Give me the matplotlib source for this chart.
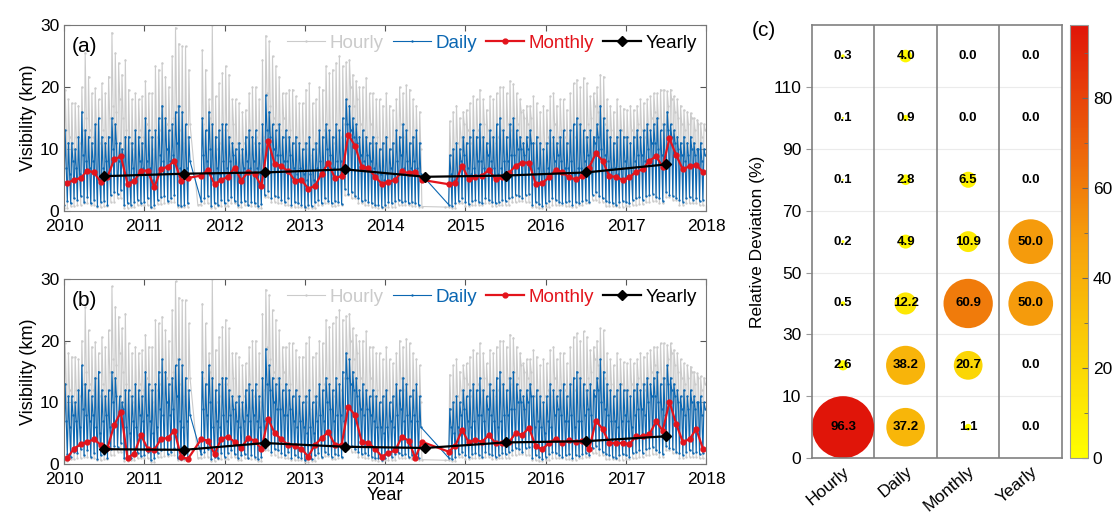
import numpy as np
import matplotlib
matplotlib.use("Agg")
import matplotlib.pyplot as plt
from matplotlib.colors import LinearSegmentedColormap

plt.rcParams['font.family'] = ['Liberation Sans', 'DejaVu Sans']

nan = np.nan

# ---- hourly series, per half month (24 per year, 2010..2017): spike tops and dense-band tops
hourly_peak = [
    19.6, 18, 17.4, 17.4, 17, 20, 25.5, 21.7, 19, 19.8, 18, 20.6, 19, 21.7, 28.8, 25.5, 23.9, 22, 24.4, 19.6, 18, 19, 18, 18.5,
    21, 19, 19, 23.4, 22.8, 23.9, 21.7, 20, 25, 29.6, 27, 26.6, 26.6, 22.8, nan, nan, nan, 26, 22.8, 18, 30, 18.5, 20.6, 22.3,
    23.4, 22, 18, 18, 17.4, 16, 16.3, 19, 20, 20, 18, 24.4, 28.3, 27.4, 25, 23.4, 21.7, 19, 19, 19.6, 19.6, 18.5, 17.4, 17.4,
    19.6, 20.6, 17.4, 18, 20, 19.6, 23.4, 22.3, 22.8, 23.9, 25, 23.4, 24, 24.4, 22, 21, 20, 20, 21.5, 19, 19, 18, 18, 17,
    19, 17, 16.3, 18, 20, 19, 20.3, 19.6, 18, 17, 16, nan, nan, nan, nan, nan, nan, nan, nan, 14.5, 16, 17, 15, 16,
    16.3, 17.4, 18.5, 18, 19.6, 18, 16.3, 18.5, 18, 19, 20, 20, 19, 21, 20.5, 19, 18, 16.3, 17, 17, 18.5, 17.4, 16, 17,
    16.3, 18.5, 19, 17, 18, 18, 16.3, 19, 20.6, 21.2, 20, 21.5, 20.6, 18.5, 19, 20, 22, 21.7, 18, 17, 16, 18, 17, 16.5,
    16.3, 17, 16.3, 17, 18, 17.4, 18, 18.5, 19, 19, 19.6, 19.6, 19.3, 19.6, 18.5, 18, 17, 16.3, 16, 15.8, 15, 14.7, 14.2, 14,
]
hourly_body = [
    13, 12, 10, 12, 11, 13, 15, 13, 12, 14, 11, 13, 12, 15, 17, 16, 18, 15, 13, 11, 10, 12, 13, 12,
    14, 12, 10, 12, 13, 15, 14, 13, 15, 17, 13, 11, 12, 14, nan, nan, nan, 14, 13, 15, 12, 10, 11, 13,
    13, 12, 14, 11, 9, 11, 12, 13, 11, 12, 10, 12, 19, 17, 15, 14, 13, 15, 12, 13, 11, 12, 10, 11,
    10, 9, 11, 10, 12, 13, 14, 12, 11, 13, 12, 14, 18, 20, 17, 18, 14, 13, 12, 14, 11, 12, 10, 11,
    12, 10, 11, 12, 14, 12, 13, 11, 12, 11, 10, nan, nan, nan, nan, nan, nan, nan, nan, 9, 10, 11, 12, 14,
    13, 11, 12, 13, 12, 14, 13, 12, 11, 12, 13, 12, 14, 13, 15, 14, 16, 15, 14, 15, 11, 12, 10, 11,
    12, 11, 14, 12, 13, 12, 11, 13, 12, 14, 13, 12, 14, 15, 17, 16, 15, 14, 12, 13, 11, 12, 13, 12,
    12, 13, 12, 14, 13, 12, 14, 15, 16, 15, 14, 13, 17, 18, 16, 15, 14, 13, 14, 15, 13, 14, 12, 13,
]
# monthly low edge of the hourly band
hourly_low = [
    0.5, 0.8, 1.0, 1.2, 1.0, 0.6, 0.8, 1.5, 2.0, 0.5, 0.7, 0.9,
    0.9, 0.4, 1.1, 1.3, 1.5, 0.6, 0.7, nan, 1.0, 1.2, 0.5, 0.8,
    0.8, 1.2, 0.6, 0.9, 0.8, 0.5, 2.2, 1.5, 1.2, 0.9, 0.6, 0.7,
    0.4, 0.5, 0.9, 1.3, 0.8, 1.0, 2.5, 2.0, 1.2, 1.0, 0.7, 0.5,
    0.6, 0.7, 1.0, 0.9, 0.8, 0.7, nan, nan, nan, 0.6, 0.5, 1.2,
    0.8, 0.9, 1.0, 1.2, 0.8, 0.9, 1.0, 1.4, 1.6, 1.5, 0.6, 0.5,
    0.7, 1.0, 1.0, 0.8, 0.7, 0.9, 1.2, 1.8, 1.5, 0.8, 0.8, 0.7,
    0.8, 1.0, 1.1, 1.4, 1.6, 1.2, 2.2, 1.8, 1.0, 1.2, 1.2, 0.9,
]

# ---- daily series, per half month: spike tops, band tops, lows
daily_peak = [
    13, 11, 11, 10, 12, 16, 13, 12, 11, 14, 15, 12, 11, 12, 15, 14, 8, 10, 12, 12, 11, 13, 12, 11,
    15, 13, 12, 13, 15, 17, 15, 13, 14, 16, 17, 16, 14, 12, nan, nan, nan, 15, 13, 16, 14, 12, 13, 14,
    14, 12, 11, 10, 11, 10, 12, 13, 12, 13, 11, 14, 18.7, 16, 14, 13, 14, 12, 13, 12, 11, 12, 11, 10,
    11, 12, 10, 11, 13, 12, 14, 13, 12, 14, 13, 15, 18, 17, 15, 14, 12, 13, 12, 11, 12, 11, 10, 11,
    12, 10, 11, 13, 12, 14, 13, 11, 12, 13, 11, nan, nan, nan, nan, nan, nan, nan, nan, 9, 10, 11, 10, 12,
    11, 12, 13, 12, 14, 12, 11, 13, 12, 14, 15, 13, 12, 14, 15, 13, 12, 11, 12, 13, 11, 12, 11, 10,
    11, 13, 12, 11, 12, 13, 11, 13, 14, 15, 14, 13, 12, 13, 12, 14, 17, 15, 13, 12, 11, 12, 13, 12,
    12, 11, 12, 13, 12, 13, 14, 13, 14, 15, 13, 14, 16, 14, 13, 12, 11, 12, 11, 12, 11, 10, 11, 10,
]
daily_body = [
    7, 6, 8, 7, 6, 9, 8, 7, 8, 6, 5, 7, 8, 6, 10, 11, 11, 9, 6, 5, 7, 6, 8, 7,
    8, 7, 5, 6, 9, 8, 10, 8, 9, 11, 7, 6, 7, 8, nan, nan, nan, 9, 8, 10, 6, 7, 6, 8,
    7, 8, 9, 7, 6, 7, 8, 7, 8, 7, 6, 7, 13, 12, 10, 9, 9, 8, 8, 9, 7, 6, 7, 6,
    5, 6, 5, 7, 8, 7, 10, 9, 7, 8, 8, 7, 14, 13, 12, 11, 9, 8, 9, 8, 7, 6, 6, 5,
    6, 7, 6, 8, 9, 7, 8, 7, 8, 7, 6, nan, nan, nan, nan, nan, nan, nan, nan, 6, 5, 6, 8, 9,
    7, 6, 7, 8, 8, 7, 9, 8, 7, 6, 7, 8, 8, 9, 9, 10, 10, 9, 10, 11, 6, 7, 6, 5,
    7, 6, 8, 9, 8, 7, 7, 8, 6, 7, 7, 8, 9, 8, 11, 12, 10, 9, 8, 7, 7, 6, 7, 8,
    7, 6, 8, 9, 9, 8, 10, 11, 11, 10, 9, 8, 13, 12, 11, 10, 9, 8, 9, 10, 9, 10, 8, 9,
]
daily_low = [
    1.0, 1.6, 1.2, 2.0, 1.8, 2.4, 1.5, 2.2, 1.2, 1.8, 0.8, 1.4, 1.6, 1.0, 2.5, 3.0, 2.8, 3.4, 0.9, 1.2, 1.0, 1.5, 1.8, 1.3,
    1.4, 2.0, 0.6, 1.0, 1.8, 2.2, 2.4, 1.6, 2.0, 2.6, 1.0, 0.8, 0.9, 1.2, nan, nan, nan, 1.6, 2.0, 2.4, 0.8, 1.2, 1.0, 1.8,
    1.2, 1.8, 2.2, 1.6, 1.0, 1.4, 1.6, 1.0, 1.5, 1.2, 0.8, 1.1, 2.6, 3.2, 2.0, 2.4, 2.2, 1.8, 1.4, 2.0, 1.0, 1.4, 1.2, 0.9,
    0.6, 1.0, 0.8, 1.4, 1.8, 1.2, 2.0, 1.6, 1.2, 1.6, 1.4, 1.1, 3.5, 2.8, 3.0, 2.4, 2.0, 1.6, 1.8, 1.5, 1.2, 0.9, 1.0, 0.7,
    1.0, 1.4, 1.2, 1.6, 1.8, 1.4, 1.6, 1.2, 1.5, 1.3, 1.0, nan, nan, nan, nan, nan, nan, nan, nan, 1.0, 0.8, 1.2, 1.6, 2.0,
    1.4, 1.1, 1.6, 1.8, 1.5, 1.2, 2.0, 1.7, 1.4, 1.2, 1.5, 1.8, 1.6, 2.0, 2.2, 2.6, 2.4, 2.0, 2.6, 2.8, 1.0, 1.4, 1.1, 0.8,
    1.2, 1.6, 2.0, 1.8, 1.5, 1.2, 1.4, 1.6, 1.0, 1.4, 1.3, 1.6, 1.8, 1.5, 2.6, 3.0, 2.4, 2.0, 1.6, 1.4, 1.2, 1.0, 1.4, 1.6,
    1.4, 1.2, 1.8, 2.0, 2.2, 1.8, 2.4, 2.6, 2.8, 2.2, 2.0, 1.6, 3.0, 2.6, 2.4, 2.0, 1.8, 1.5, 2.0, 2.2, 1.8, 2.0, 1.6, 1.8,
]

# ---- monthly means, panel (a) and (b)
monthly_a = [
    4.5, 5.0, 5.3, 6.5, 6.2, 4.6, 5.5, 8.3, 8.8, 4.4, 4.8, 6.5,
    6.5, 3.8, 6.8, 7.1, 8.1, 4.9, 5.3, nan, 5.7, 6.6, 4.3, 5.0,
    5.5, 7.0, 4.9, 6.3, 6.0, 4.0, 11.3, 7.6, 7.2, 6.4, 4.9, 5.0,
    3.6, 4.0, 6.0, 7.7, 5.3, 5.6, 12.3, 10.5, 7.1, 6.9, 5.5, 4.4,
    4.7, 5.0, 6.4, 6.1, 6.3, 5.0, nan, nan, nan, 4.3, 4.5, 7.3,
    5.1, 5.5, 5.7, 6.6, 5.1, 5.4, 6.1, 7.3, 7.8, 7.8, 4.4, 4.5,
    5.4, 6.6, 6.2, 5.4, 5.1, 5.6, 7.0, 9.3, 8.1, 5.6, 5.5, 5.0,
    5.4, 6.3, 6.7, 8.1, 8.8, 7.1, 11.7, 9.0, 6.7, 7.2, 7.4, 6.3,
]
monthly_b = [
    1.0, 2.5, 3.2, 3.6, 4.0, 3.1, 2.6, 6.3, 8.5, 1.0, 1.7, 4.7,
    2.5, 2.3, 4.1, 4.2, 5.4, 1.2, 0.8, nan, 4.0, 3.8, 1.6, 4.1,
    4.4, 3.6, 2.6, 4.2, 3.8, 2.4, 7.3, 5.0, 4.0, 3.1, 2.9, 2.5,
    1.2, 3.1, 4.2, 5.2, 3.1, 3.1, 9.3, 7.9, 3.6, 3.4, 2.5, 1.2,
    1.8, 2.2, 4.4, 3.8, 1.0, 3.6, nan, nan, nan, 2.0, 3.0, 5.5,
    3.5, 3.9, 3.6, 4.7, 3.4, 3.4, 3.5, 5.0, 4.7, 5.9, 2.9, 2.4,
    3.4, 4.1, 3.4, 3.9, 3.6, 3.8, 2.4, 7.0, 5.7, 3.4, 3.4, 3.4,
    3.2, 4.5, 4.5, 4.8, 6.9, 5.4, 10.1, 6.5, 3.6, 4.0, 5.7, 2.5,
]

years = [2010, 2011, 2012, 2013, 2014, 2015, 2016, 2017]
yearly_a = [5.6, 6.0, 6.2, 6.7, 5.5, 5.7, 6.2, 7.5]
yearly_b = [2.4, 2.3, 3.4, 2.8, 2.6, 3.5, 3.7, 4.5]

# ---- panel (c): relative deviation bins (%) per time scale
scales = ['Hourly', 'Daily', 'Monthly', 'Yearly']
bin_labels = ['0', '10', '30', '50', '70', '90', '110']
freq_hourly = [96.3, 2.6, 0.5, 0.2, 0.1, 0.1, 0.3]
freq_daily = [37.2, 38.2, 12.2, 4.9, 2.8, 0.9, 4.0]
freq_monthly = [1.1, 20.7, 60.9, 10.9, 6.5, 0.0, 0.0]
freq_yearly = [0.0, 0.0, 50.0, 50.0, 0.0, 0.0, 0.0]

C_GRAY = '#cbcbcb'
C_BLUE = '#0b67b2'
C_RED = '#e3141c'


def band(low, peak, body):
    # low -> spike top -> band top, once per half month
    t0 = 2010 + np.arange(len(peak)) / 24.0
    t = (t0[:, None] + np.array([0, 1, 2]) / 72.0).ravel()
    y = np.column_stack([low, peak, body]).ravel()
    ok = np.isfinite(y)
    return t[ok], y[ok]


def finite(t, y):
    y = np.asarray(y, float)
    ok = np.isfinite(y)
    return np.asarray(t)[ok], y[ok]


t_month = 2010 + (np.arange(96) + 0.5) / 12.0
t_year = np.array(years) + 0.5

fig = plt.figure(figsize=(11.15, 5.13), dpi=100)
ax_a = fig.add_axes([0.0574, 0.589, 0.576, 0.362])
ax_b = fig.add_axes([0.0574, 0.0955, 0.576, 0.3606])

th, yh = band(np.repeat(np.asarray(hourly_low, float), 2),
              np.asarray(hourly_peak, float), np.asarray(hourly_body, float))
td, yd = band(np.asarray(daily_low, float),
              np.asarray(daily_peak, float), np.asarray(daily_body, float))

for ax, mon, yr, tag in [(ax_a, monthly_a, yearly_a, '(a)'), (ax_b, monthly_b, yearly_b, '(b)')]:
    ax.plot(th, yh, color=C_GRAY, lw=0.8, marker='.', ms=1.4, label='Hourly')
    ax.plot(td, yd, color=C_BLUE, lw=0.8, marker='.', ms=1.4, label='Daily')
    tm, ym = finite(t_month, mon)
    ax.plot(tm, ym, color=C_RED, lw=1.6, marker='o', ms=3.5, label='Monthly')
    ax.plot(t_year, yr, color='black', lw=1.6, marker='D', ms=5, label='Yearly')
    ax.set_xlim(2010, 2018)
    ax.set_ylim(0, 30)
    ax.set_xticks(range(2010, 2019))
    ax.set_yticks([0, 10, 20, 30])
    ax.tick_params(direction='in', top=True, right=True, labelsize=12.5, length=4, color='#555555')
    ax.tick_params(axis='x', pad=6)
    for sp in ax.spines.values():
        sp.set_color('#777777')
    ax.set_ylabel('Visibility (km)', fontsize=13, labelpad=2)
    ax.text(0.012, 0.885, tag, transform=ax.transAxes, fontsize=15, va='center')
    leg = ax.legend(ncol=4, loc='upper right', frameon=False, fontsize=13.5,
                    handlelength=2.0, handletextpad=0.25, columnspacing=0.5,
                    borderaxespad=0.1, numpoints=1)
    for txt, c in zip(leg.get_texts(), [C_GRAY, C_BLUE, C_RED, 'black']):
        txt.set_color(c)

ax_b.set_xlabel('Year', fontsize=13, labelpad=0)

# ---- panel (c)
ax_c = fig.add_axes([0.728, 0.107, 0.2245, 0.844])
cmap = LinearSegmentedColormap.from_list('yr', ['#ffff00', '#f6a00c', '#e01509'])
table = [freq_hourly, freq_daily, freq_monthly, freq_yearly]
vals = np.array(table)
xs = np.repeat(np.arange(len(scales)) + 0.5, len(bin_labels))
ys = np.tile(np.arange(len(bin_labels)) + 0.5, len(scales))
v = vals.ravel()
for yy in range(1, len(bin_labels)):
    ax_c.axhline(yy, color='#ebebeb', lw=0.8, zorder=0)
sc = ax_c.scatter(xs, ys, s=v * 20.7, c=v, cmap=cmap, vmin=0, vmax=96.3,
                  edgecolors='none', zorder=2)
for x_, y_, val in zip(xs, ys, v):
    ax_c.text(x_, y_, '%.1f' % val, ha='center', va='center', fontsize=9.5,
              fontweight='bold', zorder=3)
for xx in range(1, len(scales)):
    ax_c.axvline(xx, color='#808080', lw=1.2, zorder=1)
ax_c.set_xlim(0, len(scales))
ax_c.set_ylim(0, len(bin_labels))
ax_c.set_yticks(range(len(bin_labels)))
ax_c.set_yticklabels(bin_labels)
ax_c.set_xticks(np.arange(len(scales)) + 0.5)
ax_c.set_xticklabels(scales, rotation=40, ha='right', rotation_mode='anchor')
ax_c.tick_params(axis='x', length=0, labelsize=12.5, pad=4)
ax_c.tick_params(axis='y', length=4, color='#999999', labelsize=12.5)
for sp in ax_c.spines.values():
    sp.set_color('#808080')
    sp.set_linewidth(1.2)
ax_c.set_ylabel('Relative Deviation (%)', fontsize=12.5, labelpad=6)
fig.text(0.674, 0.94, '(c)', fontsize=15, va='center')

cax = fig.add_axes([0.9596, 0.107, 0.0161, 0.844])
cb = fig.colorbar(sc, cax=cax, ticks=[0, 20, 40, 60, 80])
cb.ax.tick_params(labelsize=12.5, direction='in', length=4, color='#666666')
cb.ax.set_yticks([10, 30, 50, 70, 90], minor=True)
cb.ax.tick_params(which='minor', direction='in', length=3, color='#666666')
cb.outline.set_edgecolor('#999999')

fig.savefig('out.png', dpi=100)
